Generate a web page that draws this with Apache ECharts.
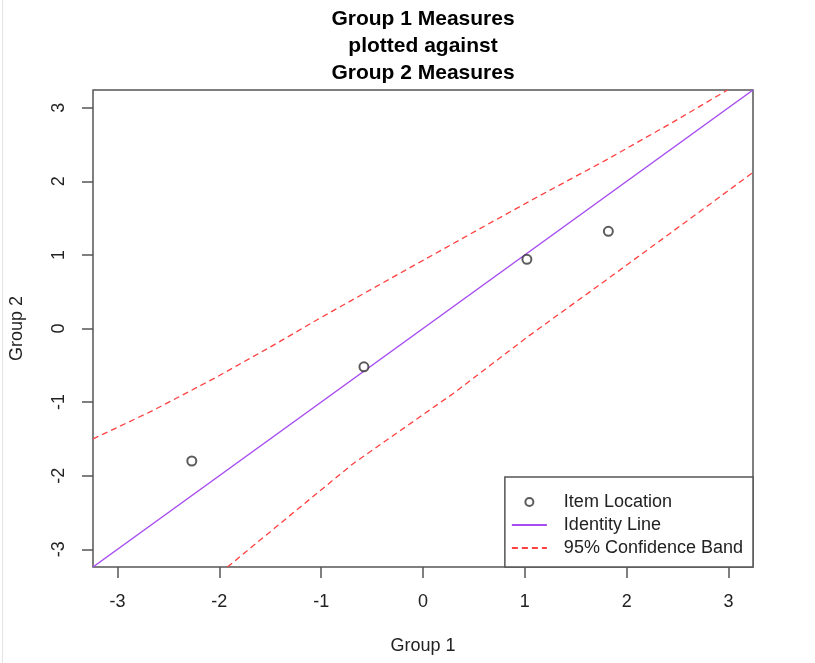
<!DOCTYPE html>
<html lang="en">

<head>
    <meta charset="UTF-8">
    <title>Group 1 vs Group 2 Measures</title>
    <script src="https://cdn.jsdelivr.net/npm/echarts@6/dist/echarts.min.js"></script>
    <style>
        html, body { margin: 0; padding: 0; background: #fff; }
        #chart { width: 815px; height: 663px; }
    </style>
</head>

<body>
    <div id="chart"></div>

    <script>
        // axis limits and ticks
        var axisMin = -3.24;
        var axisMax = 3.24;
        var xTicks = [-3, -2, -1, 0, 1, 2, 3];
        var yTicks = [-3, -2, -1, 0, 1, 2, 3];

        // item locations (group 1 on x, group 2 on y)
        var itemGroup1 = [-2.27, -0.58, 1.02, 1.82];
        var itemGroup2 = [-1.80, -0.52, 0.94, 1.32];

        // 95% confidence band
        var upperBandX = [-3.24, -2.66, -2.04, -1.51, -1.00, -0.24, 0.55, 1.14, 1.80, 2.45, 2.99];
        var upperBandY = [-1.50, -1.12, -0.67, -0.26, 0.15, 0.74, 1.35, 1.80, 2.29, 2.80, 3.24];
        var lowerBandX = [-1.92, -1.35, -0.69, -0.04, 0.30, 1.04, 1.83, 2.68, 3.24];
        var lowerBandY = [-3.24, -2.59, -1.84, -1.21, -0.88, -0.10, 0.69, 1.55, 2.12];

        function zip(xs, ys) {
            var out = [];
            for (var i = 0; i < xs.length; i++) {
                out.push([xs[i], ys[i]]);
            }
            return out;
        }

        var bandColor = '#ff4040';
        var txt = '#222';
        var font = 'Liberation Sans, Arial, sans-serif';

        var chartDom = document.getElementById('chart');
        var myChart = echarts.init(chartDom);

        var option = {
            animation: false,
            textStyle: { fontFamily: font },
            title: {
                text: 'Group 1 Measures\nplotted against\nGroup 2 Measures',
                left: 423,
                top: 6,
                padding: 0,
                textAlign: 'center',
                textStyle: {
                    fontFamily: font,
                    fontSize: 21,
                    fontWeight: 'bold',
                    lineHeight: 27,
                    color: '#000'
                }
            },
            grid: {
                left: 93,
                top: 90,
                right: 62,
                bottom: 96,
                show: true,
                borderColor: '#555',
                borderWidth: 1.5,
                backgroundColor: '#fff'
            },
            legend: {
                // line icons without the default dot
                data: [
                    { name: 'Item Location' },
                    { name: 'Identity Line', itemStyle: { opacity: 0 } },
                    { name: '95% Confidence Band', itemStyle: { opacity: 0 } }
                ],
                orient: 'vertical',
                right: 62,
                bottom: 96,
                align: 'left',
                padding: [15, 10, 9, 6],
                itemWidth: 35,
                itemHeight: 8,
                itemGap: 3,
                borderColor: '#555',
                borderWidth: 1.5,
                backgroundColor: '#fff',
                textStyle: {
                    fontFamily: font,
                    fontSize: 18,
                    lineHeight: 20,
                    color: txt,
                    padding: [0, 0, 0, 12]
                }
            },
            xAxis: {
                type: 'value',
                min: axisMin,
                max: axisMax,
                name: 'Group 1',
                nameLocation: 'middle',
                nameGap: 70,
                nameTextStyle: { fontFamily: font, fontSize: 18, color: txt },
                axisLine: { show: false, onZero: false },
                splitLine: { show: false },
                axisTick: {
                    length: 11,
                    customValues: xTicks,
                    lineStyle: { color: '#555', width: 1.5 }
                },
                axisLabel: {
                    customValues: xTicks,
                    margin: 25,
                    fontFamily: font,
                    fontSize: 18,
                    lineHeight: 20,
                    color: txt
                }
            },
            yAxis: {
                type: 'value',
                min: axisMin,
                max: axisMax,
                name: 'Group 2',
                nameLocation: 'middle',
                nameGap: 67,
                nameTextStyle: { fontFamily: font, fontSize: 18, color: txt },
                axisLine: { show: false, onZero: false },
                splitLine: { show: false },
                axisTick: {
                    length: 11,
                    customValues: yTicks,
                    lineStyle: { color: '#555', width: 1.5 }
                },
                axisLabel: {
                    customValues: yTicks,
                    rotate: 90,
                    margin: 24,
                    fontFamily: font,
                    fontSize: 18,
                    lineHeight: 20,
                    color: txt
                }
            },
            graphic: [
                {
                    type: 'rect',
                    left: 2,
                    top: 0,
                    shape: { width: 1, height: 663 },
                    style: { fill: '#e4e4e4' },
                    silent: true
                }
            ],
            series: [
                {
                    name: 'Identity Line',
                    type: 'line',
                    symbol: 'none',
                    data: [[axisMin, axisMin], [axisMax, axisMax]],
                    lineStyle: { color: '#a64cf0', width: 1.5 },
                    itemStyle: { color: '#a64cf0' },
                    z: 2
                },
                {
                    name: '95% Confidence Band',
                    type: 'line',
                    symbol: 'none',
                    clip: true,
                    data: zip(upperBandX, upperBandY),
                    lineStyle: { color: bandColor, width: 1.3, type: [6, 4] },
                    itemStyle: { color: bandColor },
                    z: 2
                },
                {
                    name: '95% Confidence Band',
                    type: 'line',
                    symbol: 'none',
                    clip: true,
                    data: zip(lowerBandX, lowerBandY),
                    lineStyle: { color: bandColor, width: 1.3, type: [6, 4] },
                    itemStyle: { color: bandColor },
                    z: 2
                },
                {
                    name: 'Item Location',
                    type: 'scatter',
                    symbol: 'emptyCircle',
                    symbolSize: 9,
                    data: zip(itemGroup1, itemGroup2),
                    itemStyle: { color: '#333', borderColor: '#333', borderWidth: 1.3 },
                    z: 3
                }
            ]
        };

        option && myChart.setOption(option);
    </script>

</body>

</html>
